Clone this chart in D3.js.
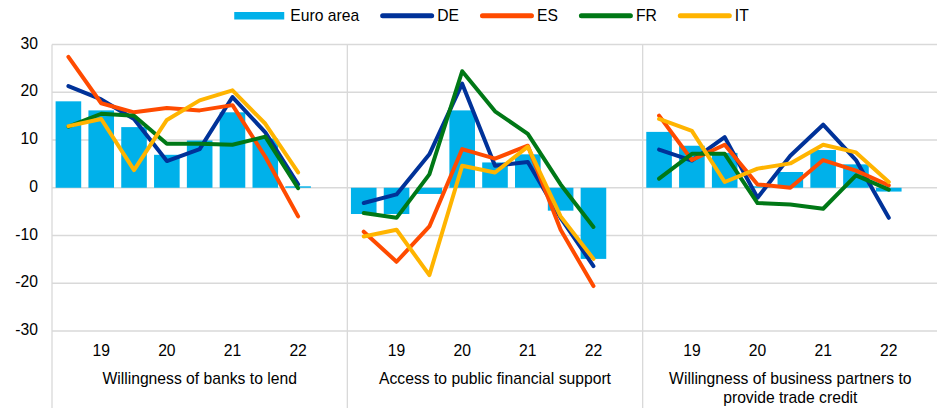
<!DOCTYPE html>
<html>
<head>
<meta charset="utf-8">
<script src="https://cdn.jsdelivr.net/npm/d3@7"></script>
<style>
  body { margin: 0; background: #fff; }
  text { font-family: "Liberation Sans", Arial, sans-serif; font-size: 15.7px; fill: #000; }
</style>
</head>
<body>
<div id="chart"></div>
<script>
/* Data */
/* ==== */

var panelTitles = [
  ["Willingness of banks to lend"],
  ["Access to public financial support"],
  ["Willingness of business partners to", "provide trade credit"]
];

// survey rounds, half-yearly; the last slot of every panel stays empty
var periods = ["p1", "p2", "p3", "p4", "p5", "p6", "p7", "p8", "gap"];
var tickLabels = ["", "19", "", "20", "", "21", "", "22", ""];

var yTicks = [-30, -20, -10, 0, 10, 20, 30];

var euroArea = [
  [18.1, 16.2, 12.7, 6.9, 9.9, 15.8, 10.3, 0.3],
  [-5.5, -5.5, -1.3, 16.2, 5.3, 7.0, -4.8, -14.9],
  [11.7, 8.8, 7.3, 0.3, 3.3, 7.9, 4.9, -0.8]
];

var de = [
  [21.3, 18.5, 14.4, 5.6, 8.1, 19.0, 11.6, 0.7],
  [-3.2, -1.4, 7.0, 21.8, 4.6, 5.4, -6.3, -16.4],
  [8.0, 5.7, 10.6, -2.1, 6.7, 13.2, 5.8, -6.3]
];

var es = [
  [27.4, 17.7, 15.8, 16.7, 16.2, 17.3, 6.5, -6.0],
  [-9.2, -15.5, -8.1, 8.1, 6.1, 8.8, -8.8, -20.6],
  [15.1, 5.8, 9.0, 0.7, 0.0, 5.8, 3.6, 0.5]
];

var fr = [
  [12.8, 15.5, 15.1, 9.2, 9.2, 9.0, 10.7, -0.1],
  [-5.3, -6.3, 2.8, 24.4, 16.0, 11.3, 0.7, -8.2],
  [1.9, 7.1, 7.1, -3.2, -3.5, -4.4, 2.6, -0.4]
];

var it = [
  [12.9, 14.4, 3.7, 14.2, 18.3, 20.4, 13.4, 3.2],
  [-10.2, -8.8, -18.3, 4.6, 3.2, 8.6, -6.0, -14.9],
  [14.4, 11.9, 1.2, 4.0, 5.1, 9.0, 7.4, 1.2]
];

var lineSeries = [
  {name: "DE", values: de, colour: "#003299"},
  {name: "ES", values: es, colour: "#ff4b00"},
  {name: "FR", values: fr, colour: "#007816"},
  {name: "IT", values: it, colour: "#ffb400"}
];

var barColour = "#00b1ea",
    gridColour = "#d9d9d9";


/* Chart */
/* ===== */

var width = 937,
    height = 408,
    plotLeft = 52,
    plotRight = 938,
    plotTop = 44.5,
    plotBottom = 331;

var svg = d3.select("#chart").append("svg")
    .attr("width", width)
    .attr("height", height);

var panel = d3.scaleBand()
    .domain(d3.range(panelTitles.length))
    .range([plotLeft, plotRight]);

var x = d3.scaleBand()
    .domain(periods)
    .range([0, panel.bandwidth()])
    .paddingInner(0.22)
    .paddingOuter(0.11);

var y = d3.scaleLinear()
    .domain([-30, 30])
    .range([plotBottom, plotTop]);

// horizontal grid
svg.append("g")
  .selectAll("line")
  .data(yTicks)
  .enter()
  .append("line")
    .attr("x1", plotLeft)
    .attr("x2", width)
    .attr("y1", function(d) { return y(d); })
    .attr("y2", function(d) { return y(d); })
    .attr("stroke", gridColour)
    .attr("stroke-width", 1.3);

// vertical panel separators, running down past the labels
svg.append("g")
  .selectAll("line")
  .data(d3.range(panelTitles.length))
  .enter()
  .append("line")
    .attr("x1", function(d) { return panel(d); })
    .attr("x2", function(d) { return panel(d); })
    .attr("y1", plotTop)
    .attr("y2", height)
    .attr("stroke", gridColour)
    .attr("stroke-width", 1.3);

// y axis labels (plain hyphen for negatives, like the original)
svg.append("g")
    .attr("transform", "translate(" + plotLeft + ",-1.5)")
    .call(d3.axisLeft(y).tickValues(yTicks).tickSize(0).tickPadding(14).tickFormat(String))
    .call(function(g) { g.select(".domain").remove(); });

var line = d3.line()
    .x(function(d, j) { return x(periods[j]) + x.bandwidth() / 2; })
    .y(function(d) { return y(d); });

panelTitles.forEach(function(title, i) {

  var g = svg.append("g")
      .attr("transform", "translate(" + panel(i) + ",0)");

  // bars
  g.selectAll("rect")
    .data(euroArea[i])
    .enter()
    .append("rect")
      .attr("x", function(d, j) { return x(periods[j]); })
      .attr("y", function(d) { return y(Math.max(0, d)); })
      .attr("width", x.bandwidth())
      .attr("height", function(d) { return Math.abs(y(d) - y(0)); })
      .attr("fill", barColour);

  // lines
  lineSeries.forEach(function(s) {
    g.append("path")
        .attr("d", line(s.values[i]))
        .attr("fill", "none")
        .attr("stroke", s.colour)
        .attr("stroke-width", 4)
        .attr("stroke-linejoin", "round")
        .attr("stroke-linecap", "round");
  });

  // x axis labels
  g.append("g")
      .attr("transform", "translate(0," + plotBottom + ")")
      .call(d3.axisBottom(x)
        .tickSize(0)
        .tickPadding(13.5)
        .tickFormat(function(d, j) { return tickLabels[j]; }))
      .call(function(a) { a.select(".domain").remove(); });

  // panel title
  g.selectAll(".title")
    .data(title)
    .enter()
    .append("text")
      .attr("class", "title")
      .attr("x", panel.bandwidth() / 2)
      .attr("y", function(d, k) { return 378.3 + k * 19; })
      .attr("dy", "0.35em")
      .attr("text-anchor", "middle")
      .text(function(d) { return d; });
});


/* Legend */
/* ====== */

var legendItems = [{name: "Euro area", colour: barColour, bar: true}].concat(lineSeries);

var legend = svg.append("g");
var cursor = 0;

legendItems.forEach(function(item, k) {
  if (item.bar) {
    legend.append("rect")
        .attr("x", cursor)
        .attr("y", 12)
        .attr("width", 50)
        .attr("height", 7.5)
        .attr("fill", item.colour);
    cursor += 56;
  } else {
    legend.append("line")
        .attr("x1", cursor + 2.5)
        .attr("x2", cursor + 51.5)
        .attr("y1", 15.7)
        .attr("y2", 15.7)
        .attr("stroke", item.colour)
        .attr("stroke-width", 5)
        .attr("stroke-linecap", "round");
    cursor += 57;
  }
  var t = legend.append("text")
      .attr("x", cursor)
      .attr("y", 15.5)
      .attr("dy", "0.35em")
      .text(item.name);
  cursor += t.node().getComputedTextLength();
  if (k < legendItems.length - 1) cursor += 21;
});

legend.attr("transform", "translate(" + (491.5 - cursor / 2) + ",0)");
</script>
</body>
</html>
